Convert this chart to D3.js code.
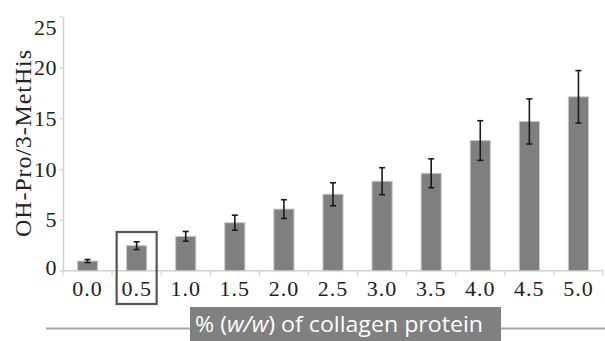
<!DOCTYPE html>
<html><head><meta charset="utf-8">
<script src="https://cdn.jsdelivr.net/npm/d3@7"></script>
<style>
html,body{margin:0;padding:0;background:#fff;}
svg{display:block;}
</style></head>
<body>
<svg id="chart" width="605" height="341"></svg>
<script>
const categories = ["0.0","0.5","1.0","1.5","2.0","2.5","3.0","3.5","4.0","4.5","5.0"];
const values = [0.95, 2.46, 3.38, 4.72, 6.06, 7.52, 8.8, 9.58, 12.8, 14.68, 17.1];
const errors = [0.15, 0.38, 0.48, 0.74, 0.92, 1.13, 1.33, 1.42, 1.95, 2.22, 2.58];
const yTicks = [0, 5, 10, 15, 20, 25];
const yTitle = "OH-Pro/3-MetHis";
const highlighted = "0.5";

const svg = d3.select("#chart");
const serif = "'Liberation Serif', 'Times New Roman', serif";

const x = d3.scaleBand().domain(categories).range([63, 603]).padding(0);
const y = d3.scaleLinear().domain([0, 25]).range([270.7, 16.5]);
const barFrac = 0.41;

// Bottom title line and box
svg.append("line").attr("x1", 46).attr("x2", 605).attr("y1", 328.5).attr("y2", 328.5)
  .attr("stroke", "#a6a6a6").attr("stroke-width", 2);
svg.append("rect").attr("x", 190).attr("y", 307).attr("width", 311).attr("height", 40)
  .attr("fill", "#808080");
const xt = svg.append("text").attr("x", 195).attr("y", 332)
  .attr("fill", "#fff").style("font-family", "'Open Sans', Lato, sans-serif").style("font-size", "21px")
  .attr("textLength", 288).attr("lengthAdjust", "spacingAndGlyphs");
xt.append("tspan").text("% (");
xt.append("tspan").style("font-style", "italic").text("w/w");
xt.append("tspan").text(") of collagen protein");

// Y axis
const yAxis = d3.axisLeft(y).tickValues(yTicks).tickSizeInner(3).tickSizeOuter(0).tickPadding(3)
  .tickFormat(d3.format("d"));
const gy = svg.append("g").attr("transform", "translate(63,0)").call(yAxis);
gy.select(".domain").attr("stroke", "#d0d0d0").attr("stroke-width", 1.5);
gy.selectAll(".tick line").attr("stroke", "#d0d0d0").attr("stroke-width", 1.2);
gy.selectAll(".tick text").attr("fill", "#222").style("font-family", serif).style("font-size", "22px")
  .style("letter-spacing", "0.5px");
gy.selectAll(".tick text").filter(d => d === 25).attr("dy", "0.8em");
gy.selectAll(".tick text").filter(d => d === 0).attr("dy", "0.15em");

// X axis
svg.append("line").attr("x1", 63).attr("x2", 603).attr("y1", y(0)).attr("y2", y(0))
  .attr("stroke", "#d0d0d0").attr("stroke-width", 1.5);
svg.selectAll("line.bound").data(categories.map(c => x(c)).concat([x.range()[1]]))
  .enter().append("line").attr("class", "bound")
  .attr("x1", d => d).attr("x2", d => d).attr("y1", y(0)).attr("y2", y(0) + 5)
  .attr("stroke", "#d0d0d0").attr("stroke-width", 1.2);
const xAxis = d3.axisBottom(x).tickSizeInner(0).tickSizeOuter(0).tickPadding(10);
const gx = svg.append("g").attr("transform", `translate(0,${y(0)})`).call(xAxis);
gx.select(".domain").remove();
gx.selectAll(".tick text").attr("fill", "#222").style("font-family", serif).style("font-size", "22px")
  .style("letter-spacing", "1px");

// Y title
svg.append("text").attr("transform", "translate(31,143.5) rotate(-90)")
  .attr("text-anchor", "middle").attr("fill", "#222")
  .style("font-family", serif).style("font-size", "24px")
  .attr("textLength", 187).attr("lengthAdjust", "spacing")
  .text(yTitle);

// Bars
const data = categories.map((c, i) => ({c, v: values[i], e: errors[i]}));
const bw = x.bandwidth() * barFrac;
svg.selectAll("rect.bar").data(data).enter().append("rect").attr("class", "bar")
  .attr("x", d => x(d.c) + (x.bandwidth() - bw) / 2)
  .attr("width", bw)
  .attr("y", d => y(d.v))
  .attr("height", d => y(0) - y(d.v))
  .attr("fill", "#7f7f7f").attr("stroke", "#c8c8c8").attr("stroke-width", 1);

// Error bars
const cx = d => x(d.c) + x.bandwidth() / 2;
const eb = svg.selectAll("g.err").data(data).enter().append("g").attr("class", "err")
  .attr("stroke", "#1a1a1a").attr("stroke-width", 1.6);
eb.append("line").attr("x1", cx).attr("x2", cx).attr("y1", d => y(d.v + d.e)).attr("y2", d => y(d.v - d.e));
eb.append("line").attr("x1", d => cx(d) - 3).attr("x2", d => cx(d) + 3).attr("y1", d => y(d.v + d.e)).attr("y2", d => y(d.v + d.e));
eb.append("line").attr("x1", d => cx(d) - 3).attr("x2", d => cx(d) + 3).attr("y1", d => y(d.v - d.e)).attr("y2", d => y(d.v - d.e));

// Highlight box around selected category
svg.append("rect")
  .attr("x", x(highlighted) + x.bandwidth() / 2 - 20).attr("y", 232)
  .attr("width", 40).attr("height", 72)
  .attr("fill", "none").attr("stroke", "#555").attr("stroke-width", 2.2);
</script>
</body></html>
